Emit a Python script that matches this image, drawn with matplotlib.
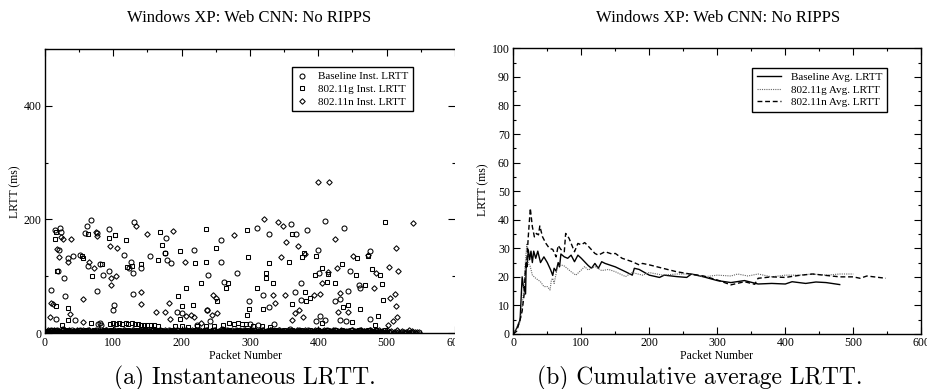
import numpy as np
import matplotlib
matplotlib.use('Agg')
import matplotlib.pyplot as plt
from matplotlib.ticker import MultipleLocator
from matplotlib.patches import Rectangle

# ---------------- data: panel (a) instantaneous LRTT (outliers) ----------------
base_x = [9, 15, 22, 23, 20, 19, 16, 28, 29, 34, 41, 44, 51, 59, 63, 68, 62, 76, 76, 80, 85,
          94, 94, 101, 100, 115, 126, 130, 129, 129, 123, 140, 154, 177, 176, 179, 185, 193,
          201, 218, 222, 238, 237, 241, 258, 258, 262, 281, 298, 310, 328, 319, 328, 360, 367,
          375, 366, 375, 384, 400, 410, 401, 402, 397, 410, 437, 432, 424, 443, 446, 459, 461,
          476, 476, 441, 432, 78, 80, 82, 300, 312, 335]
base_y = [76, 182, 185, 178, 146, 109, 26, 97, 65, 132, 135, 24, 138, 176, 119, 199, 189, 176,
          74, 121, 103, 184, 109, 50, 41, 138, 126, 195, 106, 69, 114, 115, 136, 168, 141, 128,
          124, 38, 35, 147, 15, 103, 41, 21, 164, 125, 91, 106, 56, 185, 175, 68, 47, 192, 175,
          88, 73, 59, 181, 147, 197, 106, 31, 21, 24, 185, 60, 57, 75, 109, 85, 79, 144, 26, 21,
          24, 16, 18, 14, 17, 15, 16]

g_x = [14, 16, 16, 18, 25, 34, 34, 54, 55, 63, 67, 69, 83, 94, 102, 103, 118, 120, 128, 141,
       166, 168, 171, 176, 197, 197, 195, 201, 207, 216, 219, 229, 236, 236, 250, 251, 265, 268,
       295, 297, 298, 295, 310, 324, 324, 328, 319, 334, 357, 361, 361, 376, 379, 381, 382, 388,
       397, 395, 405, 414, 412, 405, 424, 434, 436, 444, 449, 455, 456, 461, 468, 473, 478, 490,
       493, 488, 494, 498, 483,
       95, 100, 104, 109, 113, 118, 122, 127, 131, 136, 140, 145, 150, 155, 160, 165,
       190, 200, 210, 222, 235, 248, 260, 270, 276, 282, 288, 294, 305, 318, 330]
g_y = [165, 178, 48, 109, 15, 44, 24, 135, 132, 175, 18, 101, 121, 168, 172, 172, 164, 116, 119,
       121, 129, 178, 156, 141, 144, 26, 65, 48, 79, 50, 124, 89, 184, 125, 150, 56, 79, 88, 182,
       134, 42, 32, 79, 97, 106, 124, 42, 88, 125, 175, 51, 134, 141, 72, 56, 62, 136, 103, 115,
       105, 91, 18, 88, 121, 47, 50, 19, 103, 132, 42, 84, 136, 113, 103, 87, 31, 59, 195, 15,
       17, 18, 17, 18, 17, 18, 17, 18, 17, 16, 15, 15, 14, 15, 14, 13,
       12, 13, 11, 12, 13, 12, 14, 18, 17, 18, 17, 16, 13, 12, 11]

n_x = [7, 9, 11, 17, 21, 23, 26, 34, 37, 38, 55, 55, 65, 72, 76, 75, 95, 96, 97, 104, 106, 133,
       141, 140, 149, 163, 176, 182, 188, 183, 205, 206, 213, 218, 229, 237, 245, 246, 250, 252,
       277, 321, 341, 348, 346, 352, 333, 337, 351, 362, 366, 372, 378, 381, 393, 399, 416, 403,
       405, 414, 424, 428, 429, 432, 444, 451, 473, 481, 484, 504, 505, 502, 510, 512, 513, 515,
       514, 517, 539, 533, 370]
n_y = [29, 54, 52, 148, 134, 169, 166, 125, 34, 165, 61, 19, 126, 115, 171, 178, 153, 84, 97,
       101, 150, 188, 72, 52, 175, 38, 38, 53, 179, 26, 126, 31, 32, 29, 18, 41, 32, 68, 62, 35,
       172, 200, 196, 188, 134, 161, 68, 53, 68, 24, 35, 41, 29, 140, 68, 265, 266, 69, 88, 107,
       165, 115, 38, 71, 38, 135, 138, 79, 106, 116, 62, 15, 21, 69, 48, 29, 150, 110, 194, 6, 154]

# dense low band: one value every 2nd packet
base_low = [3, 1, 4, 2, 6, 1, 3, 2, 5, 2, 4, 1, 3, 7, 2, 4, 1, 3, 2, 5,
            2, 4, 1, 3, 2, 6, 3, 1, 4, 2, 3, 5, 1, 2, 4, 3, 2, 6, 1, 3,
            4, 2, 3, 1, 5, 2, 4, 3, 1, 2, 6, 3, 2, 4, 1, 3, 2, 5, 3, 1,
            2, 4, 3, 1, 6, 2, 3, 4, 1, 2, 5, 3, 2, 1, 4, 3, 2, 6, 1, 3,
            3, 1, 4, 2, 5, 2, 3, 1, 4, 2, 6, 3, 1, 2, 4, 3, 5, 1, 2, 3,
            4, 2, 1, 6, 3, 2, 4, 1, 3, 2, 5, 2, 3, 1, 4, 2, 3, 6, 2, 1,
            3, 4, 2, 5, 1, 3, 2, 4, 3, 7, 2, 1, 3, 5, 2, 4, 1, 3, 2, 6,
            3, 1, 4, 2, 3, 5, 1, 2, 4, 3, 2, 6, 1, 3, 2, 4, 3, 1, 5, 2,
            3, 2, 4, 1, 3, 6, 2, 4, 1, 3, 2, 5, 3, 1, 2, 4, 2, 3, 1, 7,
            2, 3, 4, 1, 2, 5, 3, 2, 1, 4, 3, 2, 6, 1, 3, 2, 4, 3, 1, 5,
            2, 3, 2, 4, 1, 3, 6, 2, 4, 1, 3, 2, 5, 3, 1, 2, 4, 2, 3, 1,
            4, 2, 3, 1, 5, 2, 4, 3, 1, 2, 6, 3, 2, 4, 1, 3, 2, 5, 3, 1]
g_low = [2, 4, 1, 3, 5, 2, 6, 1, 3, 4, 2, 1, 5, 3, 2, 4, 6, 1, 3, 2,
         4, 1, 3, 2, 5, 3, 1, 4, 2, 6, 3, 2, 1, 4, 3, 5, 2, 1, 3, 4,
         1, 3, 5, 2, 4, 1, 3, 6, 2, 3, 1, 4, 2, 5, 3, 1, 2, 4, 3, 2,
         5, 2, 1, 3, 4, 2, 6, 3, 1, 2, 4, 3, 5, 1, 2, 4, 3, 1, 6, 2,
         3, 4, 2, 1, 5, 3, 2, 4, 1, 3, 2, 6, 4, 1, 3, 2, 5, 2, 3, 1,
         4, 3, 1, 2, 6, 2, 4, 3, 1, 5, 2, 3, 4, 1, 2, 3, 6, 2, 1, 4,
         3, 2, 5, 1, 3, 4, 2, 1, 3, 5, 2, 4, 1, 3, 6, 2, 3, 1, 4, 2,
         5, 3, 1, 2, 4, 3, 2, 5, 1, 3, 4, 2, 6, 1, 3, 2, 4, 1, 5, 3,
         2, 1, 4, 3, 2, 6, 1, 3, 5, 2, 4, 1, 3, 2, 5, 3, 1, 4, 2, 3,
         6, 2, 1, 3, 4, 2, 5, 3, 1, 2, 4, 3, 1, 6, 2, 3, 4, 1, 2, 5,
         3, 1, 4, 2, 3, 5, 2, 1, 4, 3, 2, 6, 1, 3, 4, 2, 5, 1, 3, 2,
         4, 3, 1, 5, 2, 3, 4, 1, 2, 6, 3, 2, 1, 4, 3, 5, 2, 1, 3, 4,
         2, 5, 1, 3, 2, 4, 3, 1, 6, 2]
n_low = [1, 3, 5, 2, 4, 1, 6, 3, 2, 4, 1, 3, 5, 2, 1, 4, 3, 6, 2, 1,
         3, 4, 2, 5, 1, 3, 2, 6, 4, 1, 3, 2, 5, 3, 1, 4, 2, 3, 1, 5,
         2, 4, 3, 1, 6, 2, 3, 4, 1, 2, 5, 3, 2, 1, 4, 3, 2, 6, 1, 3,
         4, 1, 3, 2, 5, 2, 4, 1, 3, 6, 2, 4, 1, 3, 2, 5, 3, 1, 2, 4,
         3, 5, 1, 2, 4, 3, 2, 6, 1, 3, 2, 4, 3, 1, 5, 2, 3, 2, 4, 1,
         2, 6, 3, 1, 4, 2, 3, 5, 1, 2, 4, 3, 2, 6, 1, 3, 4, 2, 5, 1,
         3, 2, 4, 1, 5, 3, 2, 4, 1, 3, 6, 2, 1, 4, 3, 2, 5, 1, 3, 4,
         2, 1, 5, 3, 2, 4, 6, 1, 3, 2, 4, 1, 3, 5, 2, 1, 4, 3, 2, 6,
         1, 3, 4, 2, 5, 1, 3, 2, 4, 3, 1, 6, 2, 3, 4, 1, 2, 5, 3, 2,
         4, 2, 1, 3, 5, 2, 4, 3, 1, 2, 6, 3, 2, 4, 1, 3, 2, 5, 3, 1,
         3, 4, 1, 2, 5, 3, 2, 1, 4, 3, 6, 2, 1, 3, 4, 2, 5, 1, 3, 2,
         2, 4, 3, 1, 5, 2, 3, 2, 4, 1, 3, 6, 2, 4, 1, 3, 2, 5, 3, 1,
         4, 2, 3, 1, 5, 2, 4, 3, 1, 2, 6, 3, 2, 4, 1, 3, 2, 5, 3, 1,
         2, 4, 3, 1, 2, 3, 1, 2, 4, 3, 2, 1, 3, 2]

# ---------------- data: panel (b) cumulative average LRTT ----------------
avg_base_x = [0, 5, 10, 13, 15, 18, 19, 20, 22, 24, 26, 28, 30, 33, 36, 40, 45, 50, 55, 58, 60,
              63, 66, 68, 70, 75, 80, 85, 90, 95, 100, 110, 115, 120, 125, 130, 135, 150, 165,
              175, 178, 185, 200, 215, 222, 240, 255, 262, 280, 300, 320, 340, 360, 380, 400,
              410, 430, 445, 460, 480]
avg_base_y = [0, 2, 5, 20, 16.5, 14, 25, 23.5, 29.5, 26, 29, 25, 29, 26.5, 29, 25, 27, 25, 22.4,
              20.5, 23, 22, 25, 23.5, 28, 27, 26.5, 27.6, 25.3, 27.6, 26.5, 24, 23, 24.7, 23,
              25.3, 24.7, 23.5, 21.8, 20.6, 23, 22.6, 20.6, 19.8, 20.6, 20.1, 19.8, 21, 20, 18.7,
              18, 18.7, 17.5, 17.7, 17.5, 18.3, 17.7, 18.2, 18, 17.3]
avg_g_x = [0, 5, 10, 13, 16, 18, 20, 22, 25, 28, 33, 40, 45, 50, 54, 56, 58, 60, 62, 65, 70, 75,
           85, 92, 100, 105, 110, 120, 130, 140, 150, 165, 175, 190, 200, 220, 240, 260, 280,
           300, 320, 330, 345, 360, 380, 400, 420, 440, 460, 480, 500]
avg_g_y = [0, 2, 4.3, 9.6, 17.7, 26, 31.7, 24.7, 23.6, 20.6, 19.5, 18.3, 16.6, 16.6, 15.4, 18.9,
           19.5, 17.7, 20, 23.6, 24.2, 23.8, 21.8, 20.6, 22.4, 23.6, 22.4, 23.6, 22.2, 22.6,
           21.8, 20.1, 21.5, 20.6, 21.5, 20.6, 21, 21, 20, 20.6, 20.3, 21, 20.3, 21, 20, 20.6,
           20.6, 21, 20.6, 21, 21]
avg_n_x = [0, 5, 10, 13, 16, 18, 20, 22, 25, 28, 31, 34, 37, 39, 43, 48, 53, 58, 63, 66, 70, 75,
           77, 82, 90, 95, 100, 105, 110, 120, 125, 135, 145, 150, 160, 175, 185, 190, 200, 220,
           240, 260, 280, 300, 320, 340, 355, 360, 380, 400, 420, 440, 460, 480, 500, 510, 520,
           548]
avg_n_y = [0, 1, 5, 8, 14, 23.6, 26, 34, 44, 37.6, 34, 35.2, 34.7, 37.8, 34, 31.7, 30, 29.6, 27,
           31, 29.6, 28.8, 35.2, 33.5, 28.8, 31.7, 31.2, 32, 30.8, 28.2, 27.6, 28.8, 28, 28.2,
           26.5, 25.3, 24.2, 24.7, 24.2, 23, 21.8, 21, 20.3, 18.9, 17.2, 18.3, 17.4, 19.5, 20,
           19.8, 20.5, 21, 20.5, 20, 20, 19.5, 20.3, 19.5]

title_txt = "Windows XP: Web CNN: No RIPPS"
legend_a = ["Baseline Inst. LRTT", "802.11g Inst. LRTT", "802.11n Inst. LRTT"]
legend_b = ["Baseline Avg. LRTT", "802.11g Avg. LRTT", "802.11n Avg. LRTT"]
caption_a = "(a) Instantaneous LRTT."
caption_b = "(b) Cumulative average LRTT."

# ---------------- figure ----------------
plt.rcParams['font.family'] = ['Liberation Serif', 'DejaVu Serif']
W, H = 928, 389
fig = plt.figure(figsize=(W / 100, H / 100), dpi=100)


def px_axes(l, t, r, b):
    return fig.add_axes([l / W, 1 - b / H, (r - l) / W, (b - t) / H])


def style(ax):
    ax.tick_params(which='both', direction='in', top=True, right=True, labelsize=8.5,
                   width=0.8, colors='black')
    ax.tick_params(which='major', length=5, pad=2.5)
    ax.tick_params(which='minor', length=2.5)
    for s in ax.spines.values():
        s.set_linewidth(1.0)


# panel (a)
axa = px_axes(45, 48.7, 455, 333.3)
mk = dict(linestyle='none', mfc='none', mec='black', mew=0.75)
low_x_b = np.arange(len(base_low)) * 2 + 1
low_x_g = np.arange(len(g_low)) * 2 + 2
low_x_n = np.arange(len(n_low)) * 2 + 1
axa.plot(low_x_b, base_low, marker='o', ms=3.6, **mk)
axa.plot(low_x_g, g_low, marker='s', ms=3.0, **mk)
axa.plot(low_x_n, n_low, marker='D', ms=2.8, **mk)
la1, = axa.plot(base_x, base_y, marker='o', ms=3.6, **mk)
la2, = axa.plot(g_x, g_y, marker='s', ms=3.0, **mk)
la3, = axa.plot(n_x, n_y, marker='D', ms=2.8, **mk)
axa.set_xlim(0, 600)
axa.set_ylim(0, 500)
axa.xaxis.set_major_locator(MultipleLocator(100))
axa.xaxis.set_minor_locator(MultipleLocator(50))
axa.yaxis.set_major_locator(MultipleLocator(200))
axa.yaxis.set_minor_locator(MultipleLocator(100))
style(axa)
axa.spines['right'].set_visible(False)
lga = axa.legend([la1, la2, la3], legend_a, loc='upper right', bbox_to_anchor=(0.898, 0.935),
                 fontsize=8, frameon=True, fancybox=False, edgecolor='black', framealpha=1,
                 handlelength=1.0, handletextpad=1.0, borderpad=0.4, labelspacing=0.25,
                 borderaxespad=0)
lga.get_frame().set_linewidth(1.0)

# panel (b)
axb = px_axes(513.3, 48.3, 921.3, 334)
lb1, = axb.plot(avg_base_x, avg_base_y, color='black', lw=1.0, ls='-')
lb2, = axb.plot(avg_g_x, avg_g_y, color='0.4', lw=0.8, ls=(0, (1, 1)))
lb3, = axb.plot(avg_n_x, avg_n_y, color='black', lw=1.0, ls=(0, (3.5, 2)))
axb.set_xlim(0, 600)
axb.set_ylim(0, 100)
axb.xaxis.set_major_locator(MultipleLocator(100))
axb.xaxis.set_minor_locator(MultipleLocator(50))
axb.yaxis.set_major_locator(MultipleLocator(10))
axb.yaxis.set_minor_locator(MultipleLocator(5))
style(axb)
lgb = axb.legend([lb1, lb2, lb3], legend_b, loc='upper right', bbox_to_anchor=(0.916, 0.932),
                 fontsize=8, frameon=True, fancybox=False, edgecolor='black', framealpha=1,
                 handlelength=2.2, handletextpad=0.9, borderpad=0.4, labelspacing=0.25,
                 borderaxespad=0)
lgb.get_frame().set_linewidth(1.0)

# texts
fig.text(249.5 / W, 1 - 18 / H, title_txt, ha='center', va='center', fontsize=12)
fig.text(717.8 / W, 1 - 18 / H, title_txt, ha='center', va='center', fontsize=12)
fig.text(246 / W, 1 - 356 / H, "Packet Number", ha='center', va='center', fontsize=8.5)
fig.text(717 / W, 1 - 356 / H, "Packet Number", ha='center', va='center', fontsize=8.5)
fig.text(15 / W, 1 - 192 / H, "LRTT (ms)", ha='center', va='center', rotation=90, fontsize=8.5)
fig.text(483.3 / W, 1 - 190 / H, "LRTT (ms)", ha='center', va='center', rotation=90, fontsize=8.5)
fig.text(244.5 / W, 1 - 378 / H, caption_a, ha='center', va='center', fontsize=17,
         family=['cmr10', 'DejaVu Serif'])
fig.text(699.5 / W, 1 - 378 / H, caption_b, ha='center', va='center', fontsize=17,
         family=['cmr10', 'DejaVu Serif'])

# clip the right edge of the left sub-figure as in the original
fig.add_artist(Rectangle((455.5 / W, 40 / H), 10 / W, 310 / H, transform=fig.transFigure,
                         facecolor='white', edgecolor='none', zorder=10))

fig.savefig('out.png', dpi=100)
